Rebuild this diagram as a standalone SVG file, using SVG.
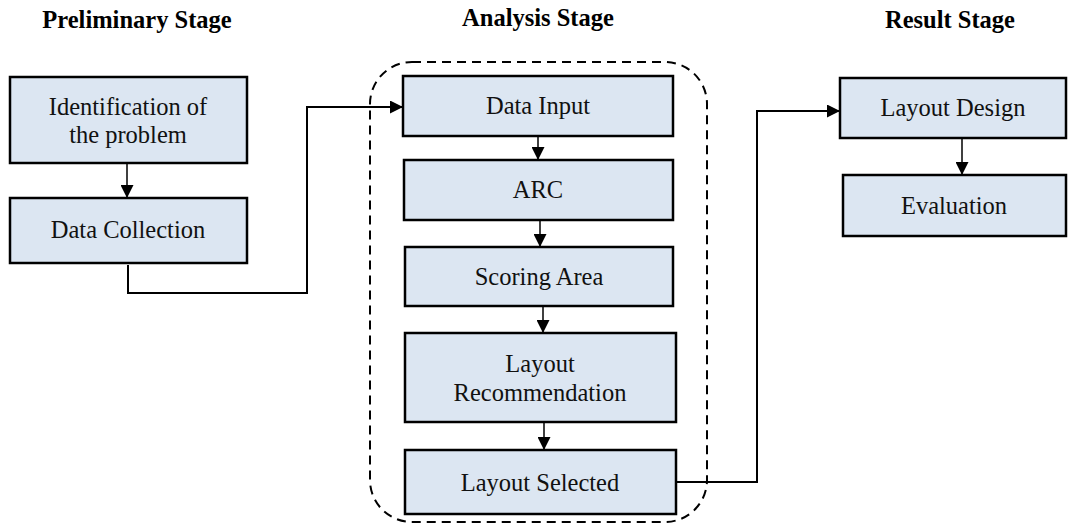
<svg xmlns="http://www.w3.org/2000/svg" width="1068" height="524" viewBox="0 0 1068 524">
<defs>
<marker id="ah" viewBox="0 0 10 10" refX="10" refY="5" markerWidth="13" markerHeight="13" markerUnits="userSpaceOnUse" orient="auto"><path d="M0,0 L10,5 L0,10 z" fill="#000"/></marker>
</defs>
<style>
.box{fill:#dce6f2;stroke:#000;stroke-width:2.5}
.t{font-family:"Liberation Serif",serif;font-size:24.5px;fill:#111;text-anchor:middle}
.h{font-family:"Liberation Serif",serif;font-size:24.5px;font-weight:bold;fill:#000;text-anchor:middle}
.c{fill:none;stroke:#000;stroke-width:1.5}
.c2{fill:none;stroke:#000;stroke-width:2}
</style>
<rect width="1068" height="524" fill="#fff"/>
<text class="h" x="137" y="28">Preliminary Stage</text>
<text class="h" x="538" y="26">Analysis Stage</text>
<text class="h" x="950" y="28">Result Stage</text>
<rect id="group" x="370" y="62" width="337" height="460" rx="42" fill="none" stroke="#000" stroke-width="2" stroke-dasharray="9,6"/>
<g id="n1"><rect class="box" x="10" y="77" width="237" height="86"/><text class="t" x="128" y="115">Identification of</text><text class="t" x="128" y="143">the problem</text></g>
<g id="n2"><rect class="box" x="10" y="198" width="237" height="65"/><text class="t" x="128" y="238">Data Collection</text></g>
<g id="n3"><rect class="box" x="403" y="76" width="270" height="60"/><text class="t" x="538" y="114">Data Input</text></g>
<g id="n4"><rect class="box" x="404" y="160" width="269" height="60"/><text class="t" x="538" y="198">ARC</text></g>
<g id="n5"><rect class="box" x="405" y="247" width="268" height="59"/><text class="t" x="539" y="285">Scoring Area</text></g>
<g id="n6"><rect class="box" x="405" y="333" width="271" height="89"/><text class="t" x="540" y="372">Layout</text><text class="t" x="540" y="401">Recommendation</text></g>
<g id="n7"><rect class="box" x="405" y="450" width="271" height="64"/><text class="t" x="540" y="491">Layout Selected</text></g>
<g id="n8"><rect class="box" x="840" y="78" width="226" height="60"/><text class="t" x="953" y="116">Layout Design</text></g>
<g id="n9"><rect class="box" x="843" y="175" width="223" height="61"/><text class="t" x="954" y="214">Evaluation</text></g>
<g id="connectors">
<path class="c" d="M127,163 V198" marker-end="url(#ah)"/>
<path class="c2" d="M128,265 V293 H307 V107 H403" marker-end="url(#ah)"/>
<path class="c" d="M538,136 V160" marker-end="url(#ah)"/>
<path class="c" d="M540,220 V247" marker-end="url(#ah)"/>
<path class="c" d="M543,306 V333" marker-end="url(#ah)"/>
<path class="c" d="M544,422 V450" marker-end="url(#ah)"/>
<path class="c2" d="M676,482 H757 V111 H840" marker-end="url(#ah)"/>
<path class="c" d="M962,138 V175" marker-end="url(#ah)"/>
</g>
</svg>
